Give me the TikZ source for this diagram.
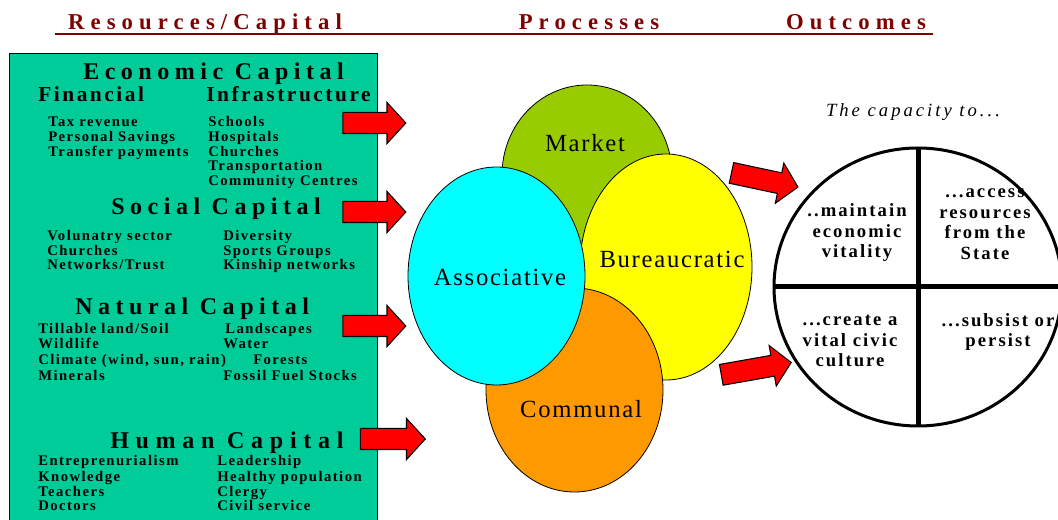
\documentclass[tikz,border=0pt]{standalone}
\usepackage{fontspec}
\setmainfont{Liberation Serif}
\usetikzlibrary{shapes.geometric,shapes.arrows}

\newfontfamily\headface{Liberation Serif}[LetterSpace=27]
\newfontfamily\capface{Liberation Serif}[LetterSpace=23]
\newfontfamily\subface{Liberation Serif}[LetterSpace=12]
\newfontfamily\itemface{Liberation Serif}[LetterSpace=10]
\newfontfamily\procface{Liberation Serif}[LetterSpace=7]
\newfontfamily\outface{Liberation Serif}[LetterSpace=11]
\newfontfamily\capaface{Liberation Serif}[LetterSpace=16]

\definecolor{headred}{RGB}{128,0,0}
\definecolor{resgreen}{RGB}{0,204,153}
\definecolor{mktgreen}{RGB}{153,204,0}
\definecolor{assoccyan}{RGB}{0,255,255}
\definecolor{bureauyellow}{RGB}{255,255,0}
\definecolor{commorange}{RGB}{255,153,0}

\tikzset{
  head/.style={font=\headface\bfseries\fontsize{17}{20}\selectfont, text=headred, anchor=base, inner sep=0pt},
  captitle/.style={font=\capface\bfseries\fontsize{18}{21}\selectfont, anchor=base west, inner sep=0pt},
  subtitle/.style={font=\subface\bfseries\fontsize{16}{19}\selectfont, anchor=base west, inner sep=0pt},
  item/.style={font=\itemface\bfseries\fontsize{11}{13}\selectfont, anchor=base west, inner sep=0pt},
  resbox/.style={draw=black, line width=0.9pt, fill=resgreen},
  bigarrow/.style={single arrow, draw=black, line width=0.8pt, fill=red, inner xsep=0pt, inner ysep=7.5pt,
    single arrow head extend=7.5pt, single arrow tip angle=95},
  proc/.style={ellipse, draw=black, line width=0.6pt, inner sep=0pt},
  proclabel/.style={font=\procface\fontsize{18.5}{21}\selectfont, inner sep=0pt},
  outtext/.style={font=\outface\bfseries\fontsize{14}{15.4}\selectfont, align=center, inner sep=0pt},
}

\begin{document}
\begin{tikzpicture}[x=0.75pt,y=-0.75pt]
  \useasboundingbox (0,0) rectangle (1058,520);

  % Headings
  \node[head] (h_res)  at (205,30) {Resources/Capital} ;
  \node[head] (h_proc) at (589,30) {Processes} ;
  \node[head] (h_out)  at (856,30) {Outcomes} ;
  \draw[headred, line width=1.5pt] (55,34.5) -- (933,34.5) ;

  % Resources box
  \node[resbox, anchor=north west, minimum width=276pt, minimum height=365pt] (res) at (9,53) {} ;

  % Economic capital
  \node[captitle] (econ)  at (83,80)   {Economic Capital} ;
  \node[subtitle] (fin)   at (38,101.5)  {Financial} ;
  \node[subtitle] (infra) at (206,101.5) {Infrastructure} ;
  \node[item] (fin_1) at (48,127)   {Tax revenue} ;
  \node[item] (fin_2) at (48,141.7) {Personal Savings} ;
  \node[item] (fin_3) at (48,156.3) {Transfer payments} ;
  \node[item] (infra_1) at (208,127)   {Schools} ;
  \node[item] (infra_2) at (208,141.7) {Hospitals} ;
  \node[item] (infra_3) at (208,156.3) {Churches} ;
  \node[item] (infra_4) at (208,171)   {Transportation} ;
  \node[item] (infra_5) at (208,185.7) {Community Centres} ;

  % Social capital
  \node[captitle] (soc) at (111,215) {Social Capital} ;
  \node[item] (soc_1) at (47,240.7)  {Volunatry sector} ;
  \node[item] (soc_2) at (47,255.4)  {Churches} ;
  \node[item] (soc_3) at (47,270)    {Networks/Trust} ;
  \node[item] (soc_4) at (223,240.7) {Diversity} ;
  \node[item] (soc_5) at (223,255.4) {Sports Groups} ;
  \node[item] (soc_6) at (223,270)   {Kinship networks} ;

  % Natural capital
  \node[captitle] (nat) at (75,315) {Natural Capital} ;
  \node[item] (nat_1) at (38,333.3)  {Tillable land/Soil} ;
  \node[item] (nat_2) at (38,348.6)  {Wildlife} ;
  \node[item] (nat_3) at (38,364.2)  {Climate (wind, sun, rain)} ;
  \node[item] (nat_4) at (38,380.3)  {Minerals} ;
  \node[item] (nat_5) at (225,333.3) {Landscapes} ;
  \node[item] (nat_6) at (223,348.6) {Water} ;
  \node[item] (nat_7) at (253,364.2) {Forests} ;
  \node[item] (nat_8) at (223,380.3) {Fossil Fuel Stocks} ;

  % Human capital
  \node[captitle, font=\capface\bfseries\fontsize{18}{21}\selectfont\addfontfeatures{LetterSpace=28}] (hum) at (110,448.3) {Human Capital} ;
  \node[item] (hum_1) at (38,466)    {Entreprenurialism} ;
  \node[item] (hum_2) at (38,481.3)  {Knowledge} ;
  \node[item] (hum_3) at (38,496.5)  {Teachers} ;
  \node[item] (hum_4) at (38,511)    {Doctors} ;
  \node[item] (hum_5) at (217,466)   {Leadership} ;
  \node[item] (hum_6) at (217,481.3) {Healthy population} ;
  \node[item] (hum_7) at (217,496.5) {Clergy} ;
  \node[item] (hum_8) at (217,511)   {Civil service} ;

  % Processes
  \node[proc, fill=mktgreen,     minimum width=127.5pt,  minimum height=135pt]   (mkt)    at (587,175)   {} ;
  \node[proc, fill=bureauyellow, minimum width=129pt,    minimum height=169.5pt] (bureau) at (666,267)   {} ;
  \node[proc, fill=commorange,   minimum width=132.75pt, minimum height=153pt]   (comm)   at (574.5,390) {} ;
  \node[proc, fill=assoccyan,    minimum width=132.75pt, minimum height=163.5pt] (assoc)  at (496.5,276) {} ;
  \node[proclabel] (mkt_t)    at (585,143) {Market} ;
  \node[proclabel] (bureau_t) at (672,259) {Bureaucratic} ;
  \node[proclabel] (comm_t)   at (581,409) {Communal} ;
  \node[proclabel] (assoc_t)  at (500,277) {Associative} ;

  % Arrows
  \node[bigarrow, minimum height=47.25pt] (a_econ) at (369.5,123) {} ;
  \node[bigarrow, minimum height=47.25pt] (a_soc)  at (369.5,212) {} ;
  \node[bigarrow, minimum height=47.25pt] (a_nat)  at (369.5,326) {} ;
  \node[bigarrow, minimum height=48.75pt] (a_hum)  at (388,439) {} ;
  \node[bigarrow, minimum height=51pt, rotate=-12]  (a_top) at (760,179) {} ;
  \node[bigarrow, minimum height=53.25pt, rotate=10] (a_bot) at (751.5,369.5) {} ;

  % Outcomes
  \node[font=\capaface\itshape\fontsize{14}{16}\selectfont, inner sep=0pt] (capa) at (913,112) {The capacity to...} ;
  \node[ellipse, minimum width=217.5pt, minimum height=210pt, inner sep=0pt] (cap) at (918,287) {} ;
  \draw[line width=3.75pt] (cap.west) -- (cap.east) ;
  \draw[line width=3.75pt] (cap.north) -- (cap.south) ;
  \draw[line width=2.25pt] (cap.center) ellipse [x radius=144, y radius=139] ;
  \node[outtext] (o_econ)  at (857,233) {..maintain\\economic\\vitality} ;
  \node[outtext] (o_state) at (985,224) {...access\\resources\\from the\\State} ;
  \node[outtext] (o_civic) at (850,341) {...create a\\vital civic\\culture} ;
  \node[outtext] (o_pers)  at (998,332) {...subsist or\\persist} ;
\end{tikzpicture}
\end{document}
